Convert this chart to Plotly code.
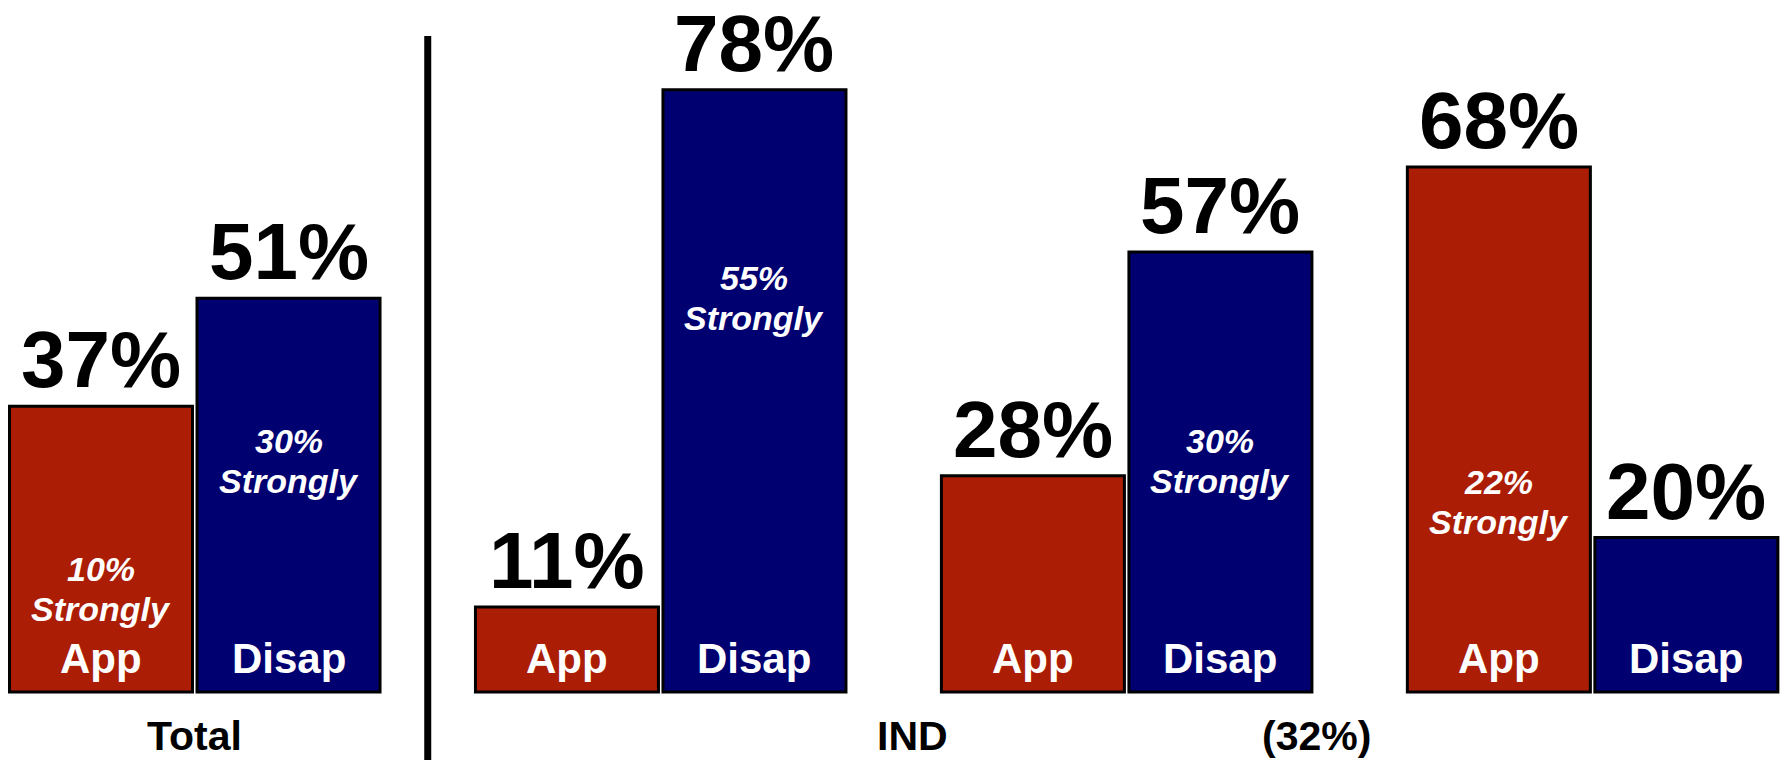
import plotly.graph_objects as go

# ---------------- data ----------------
group_names = ["Total", "IND", "IND", "IND"]
bar_labels = ["App", "Disap"]
app_values = [37, 11, 28, 68]
disap_values = [51, 78, 57, 20]
app_strongly = [10, None, None, 22]
disap_strongly = [30, 55, 30, None]
total_label = "Total"
ind_label = "IND"
ind_base = "(32%)"

# ---------------- layout constants ----------------
RED = "#AB1D04"
BLUE = "#000070"
FONT = "Liberation Sans, Arial, sans-serif"
GROUP_PITCH = 2.485
BAR_W = 0.976
W, H = 1785, 760
X_RANGE = [-0.5387, 8.981]
Y_RANGE = [-8.81, 89.64]

# level (in value units) of the "Strongly" line inside each bar
app_strong_level = [8.0, None, None, 19.3]
disap_strong_level = [24.6, 45.7, 24.6, None]

n = len(app_values)
app_x = [i * GROUP_PITCH for i in range(n)]
disap_x = [i * GROUP_PITCH + 1 for i in range(n)]

fig = go.Figure()
fig.add_trace(go.Bar(x=app_x, y=app_values, width=BAR_W, name=bar_labels[0],
                     marker=dict(color=RED, line=dict(color="black", width=3)),
                     hoverinfo="skip"))
fig.add_trace(go.Bar(x=disap_x, y=disap_values, width=BAR_W, name=bar_labels[1],
                     marker=dict(color=BLUE, line=dict(color="black", width=3)),
                     hoverinfo="skip"))

ann = []
big = dict(family=FONT, size=80, color="black", weight=700)
inner = dict(family=FONT, size=42, color="white", weight=700)
strong = dict(family=FONT, size=34, color="white", weight=700, style="italic")

for xs, vals, lab, strongs, levels in [
    (app_x, app_values, bar_labels[0], app_strongly, app_strong_level),
    (disap_x, disap_values, bar_labels[1], disap_strongly, disap_strong_level),
]:
    for x, v, s, lv in zip(xs, vals, strongs, levels):
        ann.append(dict(x=x, y=v, text=f"{v}%", showarrow=False, xanchor="center",
                        yanchor="bottom", yshift=1, borderpad=0, font=big))
        ann.append(dict(x=x, y=0, text=lab, showarrow=False, xanchor="center",
                        yanchor="bottom", yshift=8, font=inner))
        if s is not None:
            ann.append(dict(x=x, y=lv, text="Strongly", showarrow=False, xanchor="center",
                            yanchor="bottom", font=strong))
            ann.append(dict(x=x, y=lv, text=f"{s}%", showarrow=False, xanchor="center",
                            yanchor="bottom", yshift=40, font=strong))

cat_font = dict(family=FONT, size=41, color="black", weight=700)
ind_center = (app_x[1] + disap_x[-1]) / 2
ann.append(dict(x=(app_x[0] + disap_x[0]) / 2, y=0, text=total_label, showarrow=False,
                xanchor="center", yanchor="top", yshift=-20, borderpad=0, font=cat_font))
ann.append(dict(x=ind_center - 1.14, y=0, text=ind_label, showarrow=False,
                xanchor="center", yanchor="top", yshift=-20, borderpad=0, font=cat_font))
ann.append(dict(x=ind_center + 1.01, y=0, text=ind_base, showarrow=False,
                xanchor="center", yanchor="top", yshift=-20, borderpad=0, font=cat_font))

divider_x = (disap_x[0] + app_x[1]) / 2
fig.add_shape(type="line", x0=divider_x, x1=divider_x, xref="x", yref="paper",
              y0=0, y1=(H - 36) / H, line=dict(color="black", width=7))

fig.update_layout(
    width=W, height=H, autosize=False,
    margin=dict(l=0, r=0, t=0, b=0),
    paper_bgcolor="white", plot_bgcolor="white",
    showlegend=False, barmode="overlay",
    annotations=ann,
    xaxis=dict(range=X_RANGE, visible=False, fixedrange=True),
    yaxis=dict(range=Y_RANGE, visible=False, fixedrange=True),
)

fig.write_html(
    "out.html",
    config={"displayModeBar": False},
    post_script="document.body.style.margin='0';document.body.style.overflow='hidden';",
)
